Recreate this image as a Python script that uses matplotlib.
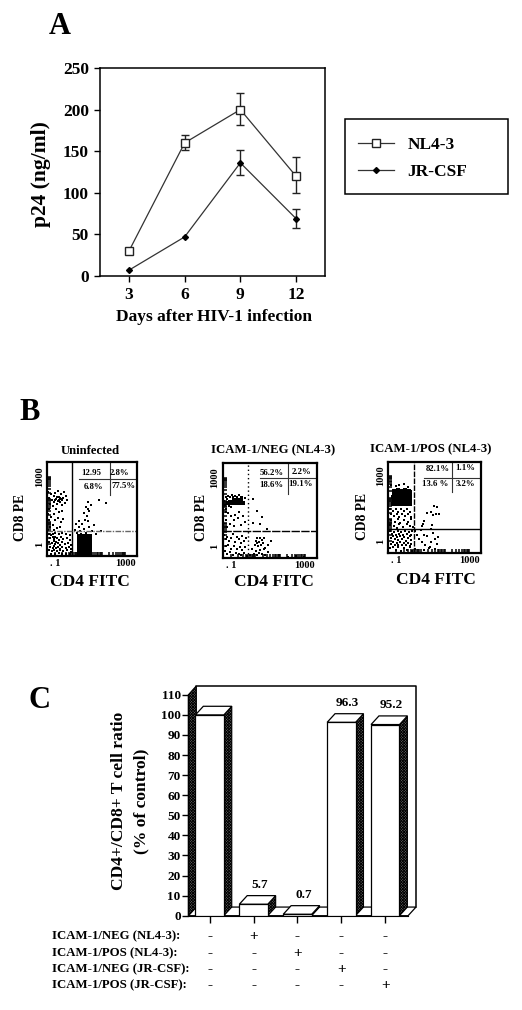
import numpy as np
import matplotlib
matplotlib.use('Agg')
import matplotlib.pyplot as plt
from matplotlib.patches import Rectangle
from matplotlib.transforms import blended_transform_factory

W, H = 522, 1010
plt.rcParams['font.family'] = ['Liberation Serif', 'DejaVu Serif']
plt.rcParams['font.weight'] = 'bold'
plt.rcParams['hatch.linewidth'] = 0.6

# panel A
days = [3, 6, 9, 12]
nl43 = [30, 160, 200, 120]
nl43_low = [np.nan, 152, 182, 100]
nl43_up = [np.nan, 170, 220, 143]
jrcsf = [7, 47, 136, 69]
jrcsf_low = [np.nan, np.nan, 121, 58]
jrcsf_up = [np.nan, np.nan, 151, 80]

# panel B, (CD4, CD8) in channels 0-100
unin_pts = [(1,68),(2,62),(3,56),(2,50),(1,45),(4,66),(5,60),(6,53),(7,64),(8,58),(9,67),(10,61),(11,55),(12,69),
            (13,63),(14,58),(15,66),(16,60),(17,54),(18,62),(19,68),(20,57),(21,64),(22,60),(10,50),(13,47),(8,45),
            (16,48),(12,59),(13,60),(14,62),(9,60),(11,63),(15,61),(4,42),(9,38),(12,41),(15,36),(6,33),(11,30),
            (18,40),(2,38),(3,31),(1,28),(14,31),(7,28),
            (2,24),(4,22),(6,24),(9,25),(13,23),(17,25),(21,24),(25,22),(3,19),(6,20),(8,18),(9,20),(11,19),(13,17),
            (15,20),(18,18),(22,19),(25,17),(2,15),(5,14),(7,16),(9,13),(10,15),(12,14),(14,12),(16,15),(20,13),
            (23,14),(26,12),(3,10),(6,9),(8,11),(10,9),(12,10),(14,8),(17,10),(21,9),(24,10),(27,8),(2,6),(5,5),
            (8,6),(11,5),(14,6),(18,5),(22,6),(26,4),(4,2),(9,2),(13,3),(17,2),(21,2),(25,2),
            (31,28),(33,25),(35,31),(37,27),(39,34),(41,29),(43,25),(45,37),(47,31),(35,37),(32,34),(38,24),(42,38),
            (44,43),(41,46),(47,48),(49,54),(45,58),(43,52),(46,50),(58,60),(66,57),(52,33),(50,27),(55,24),(60,27)]
unin_dense = [(36,2),(36,6),(36,10),(36,14),(36,18),(40,2),(40,6),(40,10),(40,14),(40,18),(40,21),(44,2),(44,6),
              (44,10),(44,14),(44,18),(44,21),(48,2),(48,6),(48,10),(48,14),(48,18),(36,21),(48,21)]
neg_pts = [(1,60),(2,56),(3,64),(4,52),(5,62),(6,65),(7,55),(8,64),(9,54),(10,66),(11,64),(13,65),(15,64),(17,66),
           (19,64),(21,64),(24,63),(3,48),(6,47),(9,44),(13,45),(17,48),(4,40),(8,36),(12,40),(16,42),(5,33),(12,34),
           (19,35),(22,44),(24,38),(32,62),(36,50),(40,36),(42,43),(32,37),(47,31),
           (1,24),(3,20),(5,22),(7,18),(9,21),(11,25),(13,17),(15,22),(17,20),(19,16),(21,23),(23,18),(25,21),(3,13),
           (6,14),(9,10),(12,13),(15,9),(18,12),(21,8),(24,12),(2,7),(5,4),(8,6),(11,3),(14,5),(17,4),(20,3),(23,5),
           (26,2),(29,3),(33,4),(36,3),(39,5),(42,4),(45,3),(48,6),(31,9),(35,7),(40,8),(44,9),(34,14),(35,18),(36,21),
           (38,13),(39,17),(40,21),(41,14),(42,19),(43,16),(37,16),(44,21),(48,14),(51,18),(45,11),(60,3),(70,1),(78,2),(86,1)]
neg_dense = [(6,58),(8,59),(10,58),(12,58),(14,59),(16,58),(18,58),(20,59),(22,58),(12,61),(16,61),(19,61)]
pos_pts = [(3,74),(8,73),(12,74),(17,75),(21,72),(25,68),(2,48),(5,46),(8,48),(11,45),(14,48),(17,46),(20,48),(23,45),
           (3,42),(6,40),(9,43),(12,39),(15,42),(18,40),(21,43),(24,39),(3,36),(7,34),(10,37),(13,33),(17,36),(21,34),
           (24,37),(2,30),(6,29),(9,27),(12,31),(16,28),(20,31),(23,29),(27,28),
           (2,24),(4,21),(6,23),(8,20),(10,24),(12,21),(14,23),(16,19),(18,24),(20,21),(22,23),(24,20),(26,24),(3,16),
           (5,18),(7,15),(9,17),(11,14),(13,18),(15,15),(17,17),(19,13),(21,16),(23,18),(25,14),(3,10),(5,12),(7,9),
           (9,11),(11,8),(13,12),(15,9),(17,11),(19,8),(21,11),(23,7),(25,10),(2,5),(5,6),(8,3),(11,6),(14,2),(17,5),
           (20,3),(23,6),(26,2),(29,4),
           (29,24),(31,20),(33,15),(35,25),(36,12),(38,20),(40,9),(42,18),(44,5),(46,12),(48,22),(50,15),(52,10),(50,4),
           (45,6),(39,3),(54,17),(46,26),(37,32),(38,35),(36,29),(47,30),(42,44),(49,51),(46,45),(53,50),(51,43),(55,42),(48,41)]
pos_dense = [(5,53),(8,54),(11,53),(14,54),(17,53),(20,54),(23,53),(6,57),(9,58),(12,57),(15,58),(18,57),(21,58),(23,57),
             (5,61),(8,62),(11,61),(14,62),(17,61),(20,62),(23,61),(6,65),(9,66),(12,65),(15,66),(18,65),(21,66),(23,65),
             (6,68),(10,69),(14,68),(18,69),(22,68)]

# panel C
conditions = ['ICAM-1/NEG (NL4-3):', 'ICAM-1/POS (NL4-3):', 'ICAM-1/NEG (JR-CSF):', 'ICAM-1/POS (JR-CSF):']
ratio = [100, 5.7, 0.7, 96.3, 95.2]
ratio_labels = ['', '5.7', '0.7', '96.3', '95.2']
signs = [['-', '+', '-', '-', '-'],
         ['-', '-', '+', '-', '-'],
         ['-', '-', '-', '+', '-'],
         ['-', '-', '-', '-', '+']]


def fx(x):
    return x / W


def fy(y):
    return 1 - y / H


def px_axes(left, top, right, bottom):
    return fig.add_axes([fx(left), fy(bottom), (right - left) / W, (bottom - top) / H])


def ftext(x, y, s, size, **kw):
    kw.setdefault('ha', 'center')
    kw.setdefault('va', 'center')
    fig.text(fx(x), fy(y), s, fontsize=size, **kw)


fig = plt.figure(figsize=(W / 100, H / 100), dpi=100)

# ---- A
ftext(60, 27, 'A', 22)
ax = px_axes(100, 68, 325, 276)
ax.errorbar(days, nl43, yerr=[np.subtract(nl43, nl43_low), np.subtract(nl43_up, nl43)], fmt='none',
            ecolor='#222222', elinewidth=1, capsize=2.6, capthick=1)
ax.errorbar(days, jrcsf, yerr=[np.subtract(jrcsf, jrcsf_low), np.subtract(jrcsf_up, jrcsf)], fmt='none',
            ecolor='#222222', elinewidth=1, capsize=2.6, capthick=1)
ax.plot(days, nl43, '-s', color='#333333', lw=0.9, ms=5.3, mfc='white', mec='#222222', mew=1, label='NL4-3')
ax.plot(days, jrcsf, '-D', color='#333333', lw=0.9, ms=3, mfc='black', mec='black', label='JR-CSF')
ax.set_xlim(1.44, 13.56)
ax.set_ylim(0, 250)
ax.set_xticks(days)
ax.set_yticks([0, 50, 100, 150, 200, 250])
ax.tick_params(labelsize=12.5, width=1, length=4, pad=4)
for s in ax.spines.values():
    s.set_linewidth(1.1)
ftext(41, 174, 'p24 (ng/ml)', 15.5, rotation=90)
ftext(214, 317, 'Days after HIV-1 infection', 12.5)

fig.add_artist(Rectangle((fx(345), fy(194.3)), 162.7 / W, 75 / H, transform=fig.transFigure,
                         facecolor='none', edgecolor='black', lw=1.1))
fig.legend(*ax.get_legend_handles_labels(), loc='upper left', bbox_to_anchor=(fx(358), fy(136.5)), frameon=False,
           fontsize=12.5, handlelength=2.1, handletextpad=0.75, labelspacing=0.65, borderpad=0, borderaxespad=0)

# ---- B
ftext(30, 413, 'B', 22)


def chan(v, scale):
    return v[0] + scale * np.log10(v[1])


decades = [m * 10 ** d for d in range(3) for m in range(1, 10)] + [1000]
panels = [
    dict(box=(47.3, 462.3, 136.7, 556), pts=unin_pts, dense=unin_dense, dsize=11, vline=(27.6, '-', 'black'),
         hline=(26.7, (0, (4, 1, 1, 1)), '#666666'), tab=(36, 82, 70, 65),
         vals=[(49, 89, '12.95'), (81, 89, '2.8%'), (52, 74, '6.8%'), (85, 75, '77.5%')]),
    dict(box=(222.7, 463, 316.7, 558), pts=neg_pts, dense=neg_dense, dsize=5, vline=(27.3, (0, (1, 2)), 'black'),
         hline=(28, (0, (6, 1)), 'black'), tab=(40, 84, 69, 67),
         vals=[(52, 90, '56.2%'), (84, 91, '2.2%'), (52, 77, '18.6%'), (83, 78, '19.1%')]),
    dict(box=(388.3, 461.7, 481, 552.7), pts=pos_pts, dense=pos_dense, dsize=5, vline=(27.7, (0, (4, 1)), 'black'),
         hline=(26, '-', 'black'), tab=(38, 82, 69, 67),
         vals=[(53, 92, '82.1%'), (83, 93, '1.1%'), (51, 76, '13.6 %'), (83, 75, '3.2%')]),
]
for p in panels:
    l, t, r, b = p['box']
    a = px_axes(l, t, r, b)
    a.set_xlim(0, 100)
    a.set_ylim(0, 100)
    a.scatter(*zip(*p['pts']), s=0.9, marker='s', color='black', linewidths=0)
    a.scatter(*zip(*p['dense']), s=p['dsize'], marker='s', color='black', linewidths=0)
    a.axvline(p['vline'][0], color=p['vline'][2], ls=p['vline'][1], lw=1)
    a.axhline(p['hline'][0], color=p['hline'][2], ls=p['hline'][1], lw=1)
    x0, ty, vx, vy = p['tab']
    a.plot([x0, 100], [ty, ty], color='#333333', lw=0.8)
    a.plot([vx, vx], [vy, 100], color='#333333', lw=0.8)
    for vx_, vy_, s in p['vals']:
        a.text(vx_, vy_, s, fontsize=6.3, ha='center', va='center')
    a.set_xticks([chan((8.6, v), 26.2) for v in [1, 1000]])
    a.set_xticklabels(['. 1', '1000'], fontsize=7.5)
    a.set_yticks([chan((12.5, v), 24) for v in [1, 1000]])
    a.set_yticklabels(['1', '1000'], fontsize=7.5, rotation=90, va='center')
    a.set_xticks([chan((8.6, v), 26.2) for v in decades], minor=True)
    a.set_yticks([chan((12.5, v), 24) for v in decades], minor=True)
    a.tick_params(which='both', direction='in', width=1.1, length=3, pad=2.5)
    for s in a.spines.values():
        s.set_linewidth(1.6)

ftext(21, 517, 'CD8 PE', 9.8, rotation=90)
ftext(90, 582, 'CD4 FITC', 12.5)
ftext(90, 451, 'Uninfected', 9.2)
ftext(201.7, 517, 'CD8 PE', 9.8, rotation=90)
ftext(273.5, 582, 'CD4 FITC', 12.5)
ftext(273, 450, 'ICAM-1/NEG (NL4-3)', 9.2)
ftext(363, 516, 'CD8 PE', 9.8, rotation=90)
ftext(436, 580, 'CD4 FITC', 12.5)
ftext(431, 449, 'ICAM-1/POS (NL4-3)', 9.2)

# ---- C
ftext(39, 701, 'C', 22)
ax3 = px_axes(188.3, 686, 416, 915.7)
ax3.set_xlim(-0.486, 4.70)
ax3.set_ylim(0, 114.4)
xs = np.arange(len(ratio))
bw = 0.648
dx, dy = 0.18, 4.3
xa, xb = ax3.get_xlim()
stip = dict(facecolor='#666666', edgecolor='black', hatch='xxxxxxxxxxxx', lw=0.8)
# back wall, floor, left wall
ax3.plot([xa + dx, xa + dx, xb, xb], [dy, 114.4, 114.4, dy], color='black', lw=1.1, zorder=1, clip_on=False)
ax3.fill([xa, xb - dx, xb, xa + dx], [0, 0, dy, dy], facecolor='white', edgecolor='black', lw=0.9, zorder=1,
         clip_on=False)
ax3.fill([xa, xa + dx, xa + dx, xa], [0, dy, 114.4, 110], zorder=1, clip_on=False, **stip)
for x, v, s in zip(xs, ratio, ratio_labels):
    lf, rt = x - bw / 2, x + bw / 2
    ax3.fill([rt, rt + dx, rt + dx, rt], [0, dy, v + dy, v], zorder=2, **stip)
    ax3.fill([lf, rt, rt + dx, lf + dx], [v, v, v + dy, v + dy], facecolor='white', edgecolor='black', lw=0.9, zorder=2)
    ax3.bar(x, v, bw, facecolor='white', edgecolor='black', lw=0.9, zorder=3)
    if s:
        ax3.annotate(s, (x, v), xytext=(4.5, 14), textcoords='offset points', ha='center', va='center', fontsize=9.5)
ax3.set_xticks(xs)
ax3.set_xticklabels([])
ax3.set_yticks(range(0, 111, 10))
ax3.tick_params(labelsize=9.5, width=1, length=4, pad=1.5)
ax3.tick_params(axis='x', length=5)
for k in ['top', 'right']:
    ax3.spines[k].set_visible(False)
ax3.spines['left'].set_bounds(0, 110)
ax3.spines['bottom'].set_bounds(xa, xb - dx)
ftext(119, 801, 'CD4+/CD8+ T cell ratio', 12.6, rotation=90)
ftext(141.7, 801, '(% of control)', 12.6, rotation=90)

row_y = [936.7, 953.3, 969.7, 985.7]
mark_tr = blended_transform_factory(ax3.transData, fig.transFigure)
for y, name, row in zip(row_y, conditions, signs):
    ftext(52.3, y, name, 9.2, ha='left')
    for x, s in zip(xs, row):
        ax3.text(x, fy(y), s, transform=mark_tr, fontsize=11, ha='center', va='center', clip_on=False)

fig.savefig('out.png', dpi=100)
